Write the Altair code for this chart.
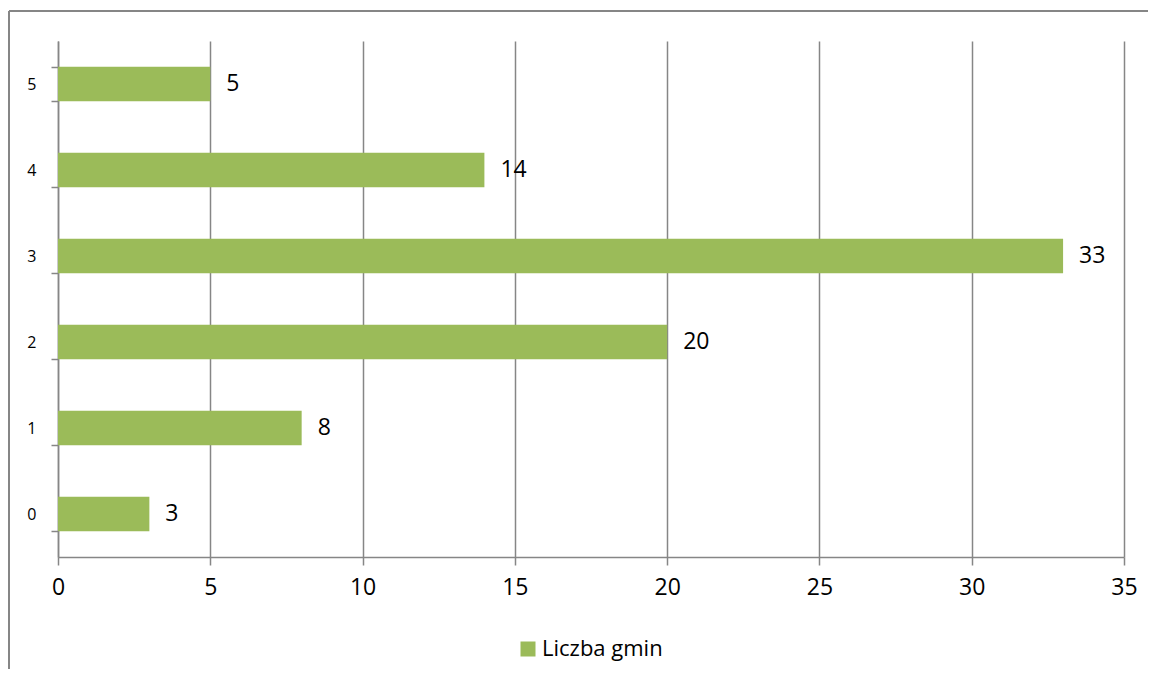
import altair as alt
import pandas as pd

categories = ["0", "1", "2", "3", "4", "5"]
values = [3, 8, 20, 33, 14, 5]
series_name = "Liczba gmin"

df = pd.DataFrame({"cat": categories, "val": values, "series": [series_name] * len(values)})

W, H = 1066, 516
GRAY = "#868686"
FONT = "Open Sans"

y_enc = alt.Y("cat:N", sort=categories[::-1], title=None,
              scale=alt.Scale(paddingInner=0.6, paddingOuter=0.3),
              axis=alt.Axis(tickBand="extent", tickSize=7, tickColor=GRAY, tickWidth=1.5,
                            domainColor=GRAY, domainWidth=1.5, labelFontSize=16,
                            labelFont=FONT, labelColor="black", labelPadding=15,
                            grid=False))
x_enc = alt.X("val:Q", title=None,
              scale=alt.Scale(domain=[0, 35], nice=False),
              axis=alt.Axis(values=[0, 5, 10, 15, 20, 25, 30, 35], tickSize=8,
                            tickColor=GRAY, tickWidth=1.5, domainColor=GRAY, domainWidth=1.5,
                            grid=True, gridColor=GRAY, gridWidth=1.5, labelFlush=False,
                            labelFontSize=23, labelFont=FONT, labelColor="black",
                            labelPadding=11))

bars = alt.Chart(df).mark_bar(cornerRadius=0).encode(
    x=x_enc, y=y_enc,
    color=alt.Color("series:N", scale=alt.Scale(range=["#9BBB59"]), title=None,
                    legend=alt.Legend(orient="none", legendX=459, legendY=597,
                                      symbolType="square", symbolSize=225,
                                      symbolStrokeWidth=0,
                                      labelFontSize=22, labelFont=FONT, labelColor="black",
                                      labelOffset=3))
)

labels = alt.Chart(df).mark_text(align="left", baseline="middle", dx=16,
                                 fontSize=23, font=FONT, color="black").encode(
    x=alt.X("val:Q"), y=alt.Y("cat:N", sort=categories[::-1]), text="val:Q"
)

border_top = alt.Chart(df).mark_rule(color=GRAY, strokeWidth=1.5).encode(
    x=alt.value(-49), x2=alt.value(1090), y=alt.value(-30)
)
border_left = alt.Chart(df).mark_rule(color=GRAY, strokeWidth=1.5).encode(
    x=alt.value(-49), y=alt.value(-30), y2=alt.value(640)
)

chart = alt.layer(bars, labels, border_top, border_left).properties(
    width=W, height=H,
    autosize=alt.AutoSizeParams(type="none"),
    padding={"left": 50, "top": 33, "right": 24, "bottom": 112},
).configure_view(stroke=None)

chart.save("out.html", embed_options={"renderer": "svg", "actions": False})
